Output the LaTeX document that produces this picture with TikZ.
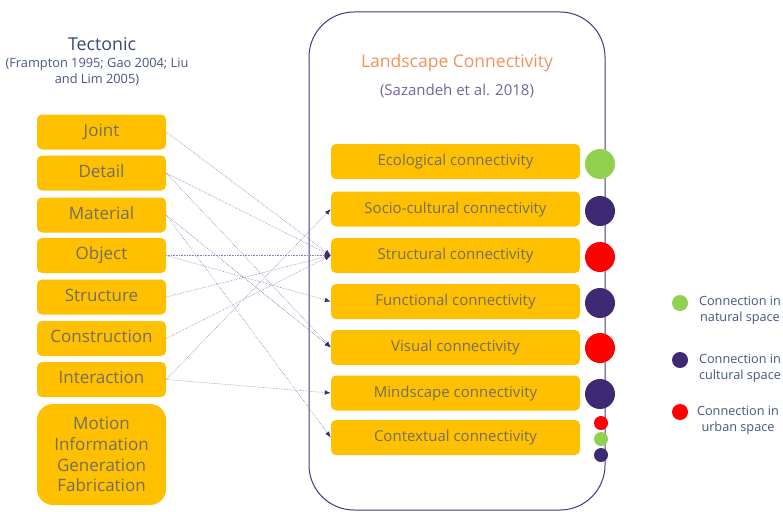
\documentclass[tikz,border=0pt]{standalone}
\usepackage{fontspec}
\setmainfont{Open Sans}
\usetikzlibrary{arrows.meta}
\definecolor{boxyellow}{RGB}{255,192,0}
\definecolor{boxtext}{RGB}{116,110,98}
\definecolor{framepurple}{RGB}{72,52,130}
\definecolor{darkpurple}{RGB}{62,42,115}
\definecolor{linkpurple}{RGB}{140,130,190}
\definecolor{titleorange}{RGB}{240,146,90}
\definecolor{citepurple}{RGB}{110,100,160}
\definecolor{tectblue}{RGB}{55,72,120}
\definecolor{legendblue}{RGB}{70,85,130}
\definecolor{natgreen}{RGB}{146,208,80}
\definecolor{urbred}{RGB}{255,0,0}
\tikzset{
  tect/.style={fill=boxyellow, rounded corners=5pt, minimum width=129pt,
    minimum height=35pt, text=boxtext, text height=12pt, text depth=3.5pt,
    font=\fontsize{17}{20}\selectfont},
  conn/.style={fill=boxyellow, rounded corners=5pt, minimum width=249pt,
    minimum height=35pt, text=boxtext, text height=11pt, text depth=3pt,
    font=\fontsize{15}{18}\selectfont},
  conndot/.style={circle, fill=#1, minimum size=30pt, inner sep=0pt},
  legendtext/.style={align=center, text=legendblue,
    font=\fontsize{12.7}{16}\selectfont},
  link/.style={draw=linkpurple, line width=0.6pt, densely dotted,
    -{Latex[length=6pt,width=4.5pt,color=darkpurple]}},
}
\begin{document}
\begin{tikzpicture}[x=1pt,y=-1pt]
      \useasboundingbox (0,0) rectangle (783,511);
      % frame round the connectivity column
      \draw[framepurple, line width=1pt, rounded corners=45pt]
        (309,12) rectangle (605,510);
      \node[text=titleorange, font=\fontsize{17.5}{20}\selectfont] (ltitle)
        at (457,63) {Landscape Connectivity};
      \node[text=citepurple, font=\fontsize{15}{18}\selectfont] (lcite)
        at (457,91) {(Sazandeh et al. 2018)};
      \node[text=tectblue, font=\fontsize{17.8}{20}\selectfont] (ttitle)
        at (102,44) {Tectonic};
      \node[text=legendblue, align=center, font=\fontsize{12.8}{16}\selectfont] (tcite)
        at (97,72) {(Frampton 1995; Gao 2004; Liu\\and Lim 2005)};
      % tectonic terms
      \node[tect] (joint) at (101.5,132) {Joint};
      \node[tect] (detail) at (101.5,173) {Detail};
      \node[tect] (material) at (101.5,215) {Material};
      \node[tect] (object) at (101.5,255.5) {Object};
      \node[tect] (structure) at (101.5,297) {Structure};
      \node[tect] (construction) at (101.5,338.5) {Construction};
      \node[tect] (interaction) at (101.5,379.5) {Interaction};
      \node[tect, rounded corners=16pt, minimum height=101pt, text height=,
        text depth=, align=center, font=\fontsize{17}{20.7}\selectfont]
        (motion) at (101.5,454.5) {Motion\\Information\\Generation\\Fabrication};
      % connectivity types
      \node[conn] (ecological) at (455.5,161.5) {Ecological connectivity};
      \node[conn] (socio) at (455.5,209) {Socio-cultural connectivity};
      \node[conn] (structural) at (455.5,255.5) {Structural connectivity};
      \node[conn] (functional) at (455.5,301.5) {Functional connectivity};
      \node[conn] (visual) at (455.5,347.5) {Visual connectivity};
      \node[conn] (mindscape) at (455.5,393) {Mindscape connectivity};
      \node[conn] (contextual) at (455.5,437.5) {Contextual connectivity};
      % space markers
      \node[conndot=natgreen] (d1) at (600,164) {};
      \node[conndot=darkpurple] (d2) at (600,211) {};
      \node[conndot=urbred] (d3) at (600,257) {};
      \node[conndot=darkpurple] (d4) at (600,303) {};
      \node[conndot=urbred] (d5) at (600,348) {};
      \node[conndot=darkpurple] (d6) at (600,394) {};
      \node[conndot=urbred, minimum size=14pt] (d7a) at (601,423) {};
      \node[conndot=natgreen, minimum size=14pt] (d7b) at (601,439) {};
      \node[conndot=darkpurple, minimum size=14pt] (d7c) at (601,455) {};
      % legend
      \node[conndot=natgreen, minimum size=16pt] (lnat) at (680,303) {};
      \node[legendtext] (tnat) at (740,310) {Connection in\\natural space};
      \node[conndot=darkpurple, minimum size=16pt] (lcul) at (680,360) {};
      \node[legendtext] (tcul) at (740,368) {Connection in\\cultural space};
      \node[conndot=urbred, minimum size=16pt] (lurb) at (680,412) {};
      \node[legendtext] (turb) at (738,420) {Connection in\\urban space};
      \begin{scope}[link]
        \draw (joint.east) to (structural.west);
        \draw (detail.east) to (structural.west);
        \draw (detail.east) to (visual.west);
        \draw (material.east) to (visual.west);
        \draw (material.east) to (contextual.west);
        \draw (object.east) to (structural.west);
        \draw (object.east) to (functional.west);
        \draw (structure.east) to (structural.west);
        \draw (construction.east) to (structural.west);
        \draw (interaction.east) to (socio.west);
        \draw (interaction.east) to (mindscape.west);
      \end{scope}
    \end{tikzpicture}
\end{document}
